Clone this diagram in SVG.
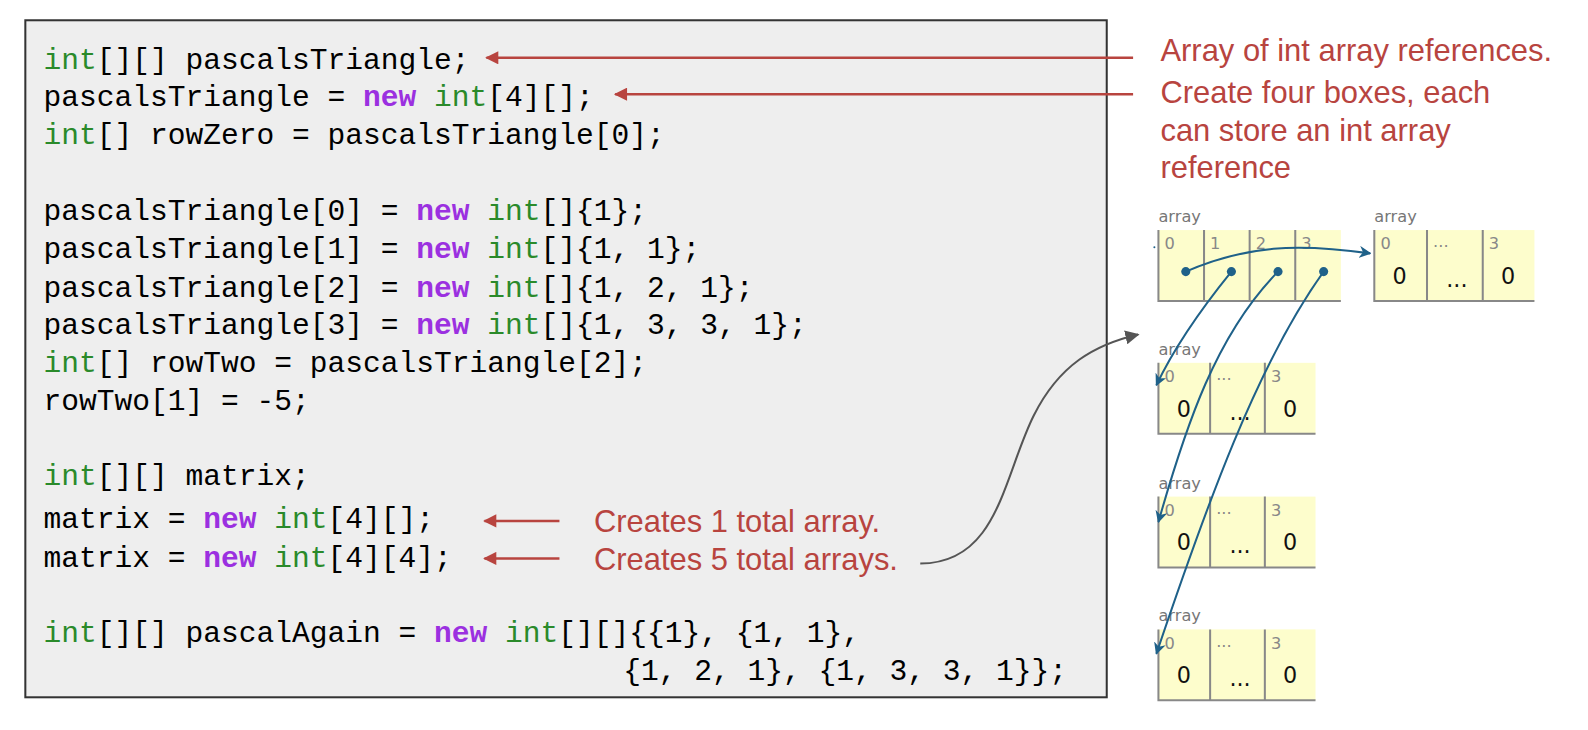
<svg xmlns="http://www.w3.org/2000/svg" width="1588" height="730" viewBox="0 0 1588 730">
<style>
.code{font-family:"Liberation Mono","DejaVu Sans Mono",monospace;font-size:29.2px;fill:#000}
.t{fill:#2a8a2a}.k{fill:#9b30e0;font-weight:bold}
.note{font-family:"Liberation Sans",Arial,sans-serif;font-size:30.5px;fill:#b8443f}
.lbl{font-family:"DejaVu Sans",sans-serif;font-size:16px;fill:#777}
.idx{font-family:"DejaVu Sans",sans-serif;font-size:16px;fill:#888}
.val{font-family:"DejaVu Sans",sans-serif;font-size:22px;fill:#111}
.cell{fill:#fdfdcc;stroke:none}
.ln{stroke:#888;stroke-width:2;fill:none}
.red{stroke:#b8443f;stroke-width:2.5;fill:none;marker-end:url(#ra)}
.blue{stroke:#1f6189;stroke-width:2;fill:none;marker-end:url(#ba)}
</style>
<defs>
<marker id="ra" viewBox="0 0 10 10" refX="9" refY="5" markerWidth="18" markerHeight="13" orient="auto" markerUnits="userSpaceOnUse"><path d="M0,0 L10,5 L0,10 z" fill="#b8443f"/></marker>
<marker id="ba" viewBox="0 0 10 10" refX="9" refY="5" markerWidth="6" markerHeight="6" orient="auto"><path d="M0,0 L10,5 L0,10 L3,5 z" fill="#1f6189"/></marker>
<marker id="ga" viewBox="0 0 10 10" refX="9" refY="5" markerWidth="7" markerHeight="7" orient="auto"><path d="M0,0 L10,5 L0,10 z" fill="#555"/></marker>
</defs>
<rect width="1588" height="730" fill="#fff"/>
<g transform="scale(1.0135)">
<g id="code">
<rect x="25" y="20" width="1067" height="668" fill="#eeeeee" stroke="#333" stroke-width="2"/>
<text class="code" x="43" y="68"><tspan class="t">int</tspan>[][] pascalsTriangle;</text>
<text class="code" x="43" y="105">pascalsTriangle = <tspan class="k">new</tspan> <tspan class="t">int</tspan>[4][];</text>
<text class="code" x="43" y="142"><tspan class="t">int</tspan>[] rowZero = pascalsTriangle[0];</text>
<text class="code" x="43" y="217">pascalsTriangle[0] = <tspan class="k">new</tspan> <tspan class="t">int</tspan>[]{1};</text>
<text class="code" x="43" y="255">pascalsTriangle[1] = <tspan class="k">new</tspan> <tspan class="t">int</tspan>[]{1, 1};</text>
<text class="code" x="43" y="293">pascalsTriangle[2] = <tspan class="k">new</tspan> <tspan class="t">int</tspan>[]{1, 2, 1};</text>
<text class="code" x="43" y="330">pascalsTriangle[3] = <tspan class="k">new</tspan> <tspan class="t">int</tspan>[]{1, 3, 3, 1};</text>
<text class="code" x="43" y="367"><tspan class="t">int</tspan>[] rowTwo = pascalsTriangle[2];</text>
<text class="code" x="43" y="405">rowTwo[1] = -5;</text>
<text class="code" x="43" y="479"><tspan class="t">int</tspan>[][] matrix;</text>
<text class="code" x="43" y="521">matrix = <tspan class="k">new</tspan> <tspan class="t">int</tspan>[4][];</text>
<text class="code" x="43" y="559">matrix = <tspan class="k">new</tspan> <tspan class="t">int</tspan>[4][4];</text>
<text class="code" x="43" y="633"><tspan class="t">int</tspan>[][] pascalAgain = <tspan class="k">new</tspan> <tspan class="t">int</tspan>[][]{{1}, {1, 1},</text>
<text class="code" x="615" y="671">{1, 2, 1}, {1, 3, 3, 1}};</text>
</g>
<g id="notes">
<text class="note" x="1145" y="60">Array of int array references.</text>
<text class="note" x="1145" y="102">Create four boxes, each</text>
<text class="note" x="1145" y="139">can store an int array</text>
<text class="note" x="1145" y="176">reference</text>
<text class="note" x="586" y="525">Creates 1 total array.</text>
<text class="note" x="586" y="562">Creates 5 total arrays.</text>
</g>
<g id="arr-outer">
<text class="lbl" x="1143" y="219">array</text>
<rect class="cell" x="1143" y="227" width="180" height="70"/>
<path class="ln" d="M1143,227 V297 H1323 M1188,227 V297 M1233,227 V297 M1278,227 V297"/>
<text class="idx" x="1149" y="246">0</text><text class="idx" x="1194" y="246">1</text><text class="idx" x="1239" y="246">2</text><text class="idx" x="1284" y="246">3</text>
<circle cx="1170" cy="268" r="4.5" fill="#1f6189"/><circle cx="1215" cy="268" r="4.5" fill="#1f6189"/><circle cx="1261" cy="268" r="4.5" fill="#1f6189"/><circle cx="1306" cy="268" r="4.5" fill="#1f6189"/>
<circle cx="1139" cy="244" r="1" fill="#1f6189"/>
</g>
<g id="arr-row0">
<text class="lbl" x="1356" y="219">array</text>
<rect class="cell" x="1356" y="227" width="158" height="70"/>
<path class="ln" d="M1356,227 V297 H1514 M1408,227 V297 M1463,227 V297"/>
<text class="idx" x="1362" y="246">0</text><text class="idx" x="1414" y="244">...</text><text class="idx" x="1469" y="246">3</text>
<text class="val" x="1374" y="280">0</text><text class="val" x="1427" y="283">...</text><text class="val" x="1481" y="280">0</text>
</g>
<g id="arr-row1">
<text class="lbl" x="1143" y="350">array</text>
<rect class="cell" x="1143" y="358" width="155" height="70"/>
<path class="ln" d="M1143,358 V428 H1298 M1194,358 V428 M1248,358 V428"/>
<text class="idx" x="1149" y="377">0</text><text class="idx" x="1200" y="375">...</text><text class="idx" x="1254" y="377">3</text>
<text class="val" x="1161" y="411">0</text><text class="val" x="1213" y="414">...</text><text class="val" x="1266" y="411">0</text>
</g>
<g id="arr-row2">
<text class="lbl" x="1143" y="482">array</text>
<rect class="cell" x="1143" y="490" width="155" height="70"/>
<path class="ln" d="M1143,490 V560 H1298 M1194,490 V560 M1248,490 V560"/>
<text class="idx" x="1149" y="509">0</text><text class="idx" x="1200" y="507">...</text><text class="idx" x="1254" y="509">3</text>
<text class="val" x="1161" y="543">0</text><text class="val" x="1213" y="546">...</text><text class="val" x="1266" y="543">0</text>
</g>
<g id="arr-row3">
<text class="lbl" x="1143" y="613">array</text>
<rect class="cell" x="1143" y="621" width="155" height="70"/>
<path class="ln" d="M1143,621 V691 H1298 M1194,621 V691 M1248,621 V691"/>
<text class="idx" x="1149" y="640">0</text><text class="idx" x="1200" y="638">...</text><text class="idx" x="1254" y="640">3</text>
<text class="val" x="1161" y="674">0</text><text class="val" x="1213" y="677">...</text><text class="val" x="1266" y="674">0</text>
</g>
<g id="connectors">
<path class="red" d="M1118,57 H480"/>
<path class="red" d="M1118,93 H607"/>
<path class="red" d="M552,514 H478"/>
<path class="red" d="M552,551 H478"/>
<path d="M908,556 C985,556 990,470 1020,410 C1045,360 1080,340 1123,330" stroke="#555" stroke-width="2" fill="none" marker-end="url(#ga)"/>
<path class="blue" d="M1170,268 C1230,242 1280,240 1352,250"/>
<path class="blue" d="M1215,268 C1185,305 1160,340 1141,380"/>
<path class="blue" d="M1261,268 C1200,330 1170,420 1143,515"/>
<path class="blue" d="M1306,268 C1240,360 1190,500 1141,645"/>
</g>
</g>
</svg>
